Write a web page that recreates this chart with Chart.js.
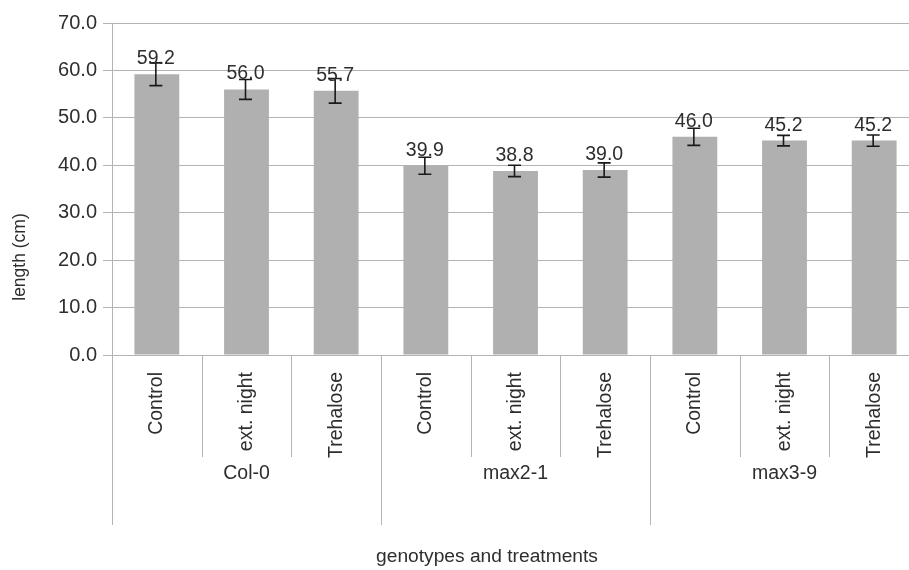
<!DOCTYPE html>
<html>
<head>
<meta charset="utf-8">
<script src="https://cdn.jsdelivr.net/npm/chart.js@4/dist/chart.umd.min.js"></script>
<style>
  html, body { margin: 0; padding: 0; background: #fff; overflow: hidden; }
  #wrap { width: 925px; height: 570px; position: relative; }
</style>
</head>
<body>
<div id="wrap"><canvas id="c"></canvas></div>
<script>
// Plant length by genotype and treatment
const genotypes = ['Col-0', 'max2-1', 'max3-9'];
const treatments = ['Control', 'ext. night', 'Trehalose'];
const lengths = [59.2, 56.0, 55.7, 39.9, 38.8, 39.0, 46.0, 45.2, 45.2];
const errors = [2.4, 2.1, 2.6, 1.8, 1.2, 1.5, 1.8, 1.1, 1.2];
const yMin = 0, yMax = 70, yStep = 10;
const yTitle = 'length (cm)';
const xTitle = 'genotypes and treatments';

const categories = [];
genotypes.forEach(g => treatments.forEach(t => categories.push(t)));

const FONT = '"Liberation Sans", Arial, sans-serif';
const TEXT = '#2e2e2e';
const LINE = '#b3b3b3';

// Error bars, value labels, two-level category axis and axis titles
const decorations = {
  id: 'decorations',
  afterDatasetsDraw(chart) {
    const ctx = chart.ctx;
    const x = chart.scales.x, y = chart.scales.y;
    const area = chart.chartArea;
    const n = categories.length;
    const step = (area.right - area.left) / n;

    ctx.save();
    // error bars
    ctx.strokeStyle = '#1a1a1a';
    ctx.lineWidth = 1.6;
    lengths.forEach((v, i) => {
      const cx = x.getPixelForValue(i) - 1;
      const top = y.getPixelForValue(v + errors[i]);
      const bot = y.getPixelForValue(v - errors[i]);
      ctx.beginPath();
      ctx.moveTo(cx, top); ctx.lineTo(cx, bot);
      ctx.moveTo(cx - 6.5, top); ctx.lineTo(cx + 6.5, top);
      ctx.moveTo(cx - 6.5, bot); ctx.lineTo(cx + 6.5, bot);
      ctx.stroke();
    });

    // value labels
    ctx.fillStyle = TEXT;
    ctx.font = '19.5px ' + FONT;
    ctx.textAlign = 'center';
    ctx.textBaseline = 'alphabetic';
    lengths.forEach((v, i) => {
      const cx = x.getPixelForValue(i) - 1;
      ctx.fillText(v.toFixed(1), cx, y.getPixelForValue(v) - 10);
    });

    // category separators
    ctx.strokeStyle = LINE;
    ctx.lineWidth = 1;
    for (let k = 0; k <= n; k++) {
      const px = Math.round(area.left + k * step) + 0.5;
      const groupEdge = k % treatments.length === 0;
      ctx.beginPath();
      ctx.moveTo(px, area.bottom);
      ctx.lineTo(px, area.bottom + (groupEdge ? 170 : 102));
      ctx.stroke();
    }
    ctx.beginPath();
    ctx.moveTo(area.left, Math.round(area.bottom) + 0.5);
    ctx.lineTo(area.right, Math.round(area.bottom) + 0.5);
    ctx.stroke();

    // treatment labels (rotated)
    ctx.fillStyle = TEXT;
    ctx.font = '19.5px ' + FONT;
    categories.forEach((c, i) => {
      const cx = x.getPixelForValue(i);
      ctx.save();
      ctx.translate(cx, area.bottom + 17);
      ctx.rotate(-Math.PI / 2);
      ctx.textAlign = 'right';
      ctx.textBaseline = 'middle';
      ctx.fillText(c, 0, 0);
      ctx.restore();
    });

    // genotype labels
    ctx.textAlign = 'center';
    ctx.textBaseline = 'middle';
    genotypes.forEach((g, gi) => {
      const cx = area.left + (gi + 0.5) * treatments.length * step;
      ctx.fillText(g, cx, area.bottom + 119);
    });

    // axis titles
    ctx.font = '19.2px ' + FONT;
    ctx.fillText(xTitle, 487, 557);
    ctx.font = '17.5px ' + FONT;
    ctx.save();
    ctx.translate(20, 257);
    ctx.rotate(-Math.PI / 2);
    ctx.fillText(yTitle, 0, 0);
    ctx.restore();
    ctx.restore();
  }
};

new Chart(document.getElementById('c'), {
  type: 'bar',
  data: {
    labels: categories,
    datasets: [{
      data: lengths,
      backgroundColor: '#b0b0b0',
      borderWidth: 0,
      barPercentage: 0.5,
      categoryPercentage: 1.0
    }]
  },
  options: {
    responsive: true,
    maintainAspectRatio: false,
    animation: false,
    layout: { padding: { left: 0, top: 23, right: 6, bottom: 215 } },
    plugins: { legend: { display: false }, tooltip: { enabled: false } },
    scales: {
      x: { display: false },
      y: {
        min: yMin, max: yMax,
        afterFit(scale) { scale.width = 112; },
        ticks: {
          stepSize: yStep,
          padding: 6,
          color: TEXT,
          font: { family: FONT, size: 20 },
          callback: v => Number(v).toFixed(1)
        },
        grid: { color: LINE, lineWidth: 1, tickLength: 9, drawTicks: true },
        border: { display: true, color: LINE }
      }
    }
  },
  plugins: [decorations]
});
</script>
</body>
</html>
